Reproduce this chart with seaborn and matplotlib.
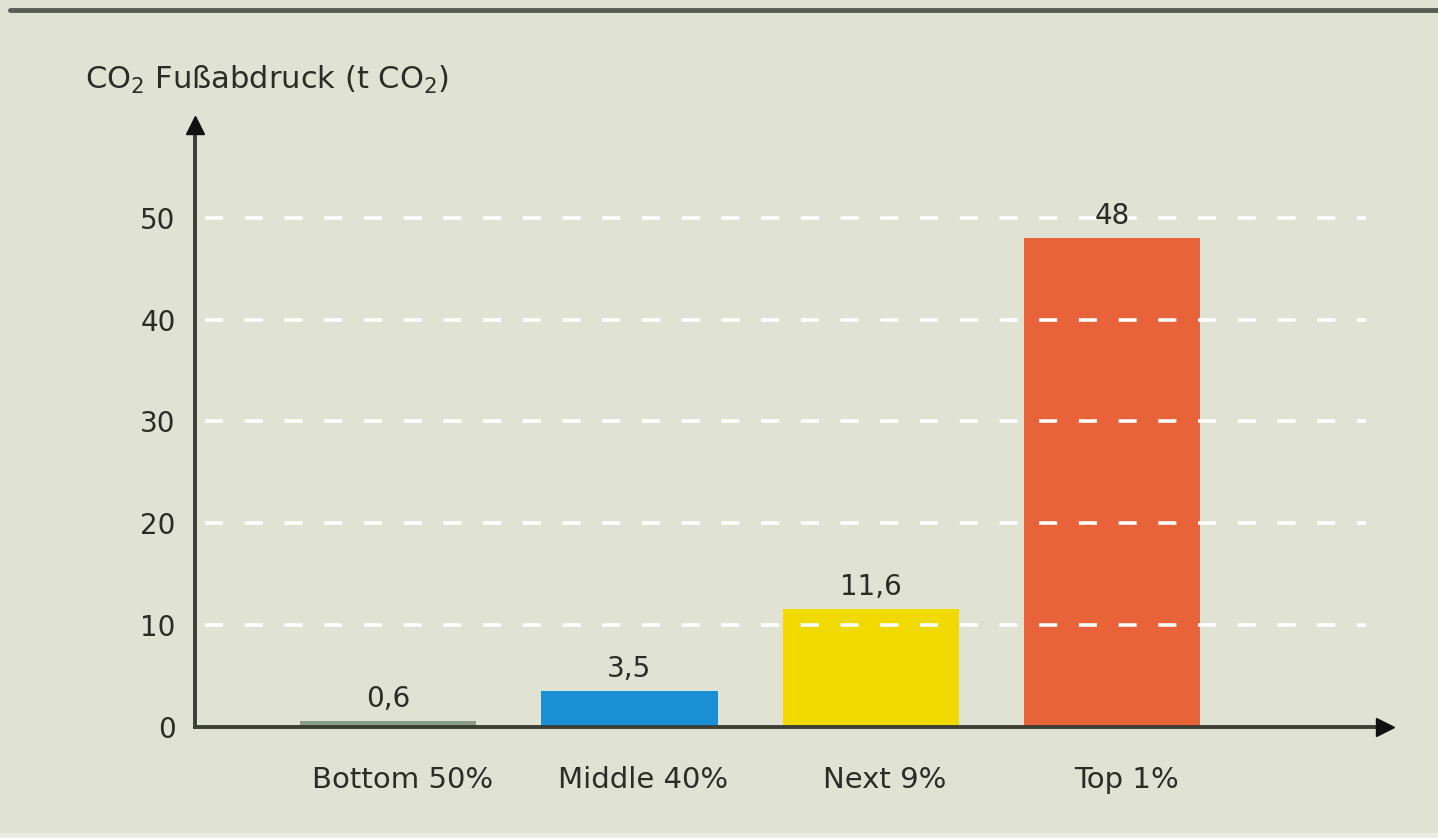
import numpy as np
import pandas as pd
import matplotlib
matplotlib.use('Agg')
import matplotlib.pyplot as plt
import matplotlib.transforms as mtransforms
from matplotlib.lines import Line2D
from matplotlib.patches import Rectangle
import seaborn as sns

categories = ['Bottom 50%', 'Middle 40%', 'Next 9%', 'Top 1%']
values = [0.6, 3.5, 11.6, 48]
value_labels = ['0,6', '3,5', '11,6', '48']
bar_colors = ['#8a9b87', '#1b8fd4', '#f0da00', '#e8633a']
y_ticks = [0, 10, 20, 30, 40, 50]

bg = '#e0e2d4'
ink = '#2b2c26'
axis_col = '#3c3f36'

sns.set_theme(style='white')
plt.rcParams['font.family'] = ['DejaVu Sans']
plt.rcParams['mathtext.fontset'] = 'dejavusans'

df = pd.DataFrame({'Gruppe': categories, 'CO2': values})

fig = plt.figure(figsize=(14.38, 8.38), dpi=100, facecolor=bg)
ax = fig.add_axes([195 / 1438, 111 / 838, 1190 / 1438, 602 / 838])
ax.set_facecolor(bg)

sns.barplot(data=df, x='Gruppe', y='CO2', hue='Gruppe', palette=bar_colors,
            legend=False, width=0.73, saturation=1, linewidth=0, ax=ax, zorder=2)

ax.set_xlim(-0.80, 4.13)
ax.set_ylim(0, 59.1)

# dashed white grid drawn above the bars
for yv in y_ticks[1:]:
    ax.plot([-0.76, 4.05], [yv, yv], color='white', lw=2.6,
            dashes=(5, 6), zorder=3, solid_capstyle='butt')

# value labels above each bar
for cont, lbl in zip(ax.containers, value_labels):
    bars = [b for b in cont if b is not None]
    for b in bars:
        if b.get_height() > 0:
            ax.annotate(lbl, (b.get_x() + b.get_width() / 2, b.get_height()),
                        xytext=(0, 6), textcoords='offset points',
                        ha='center', va='bottom', fontsize=20, color=ink)

sns.despine(ax=ax)
for s in ['left', 'bottom']:
    ax.spines[s].set_color(axis_col)
    ax.spines[s].set_linewidth(2.8)
    ax.spines[s].set_zorder(4)

# arrow heads at the axis ends
ax.plot(1, 0, '>', color='#111111', ms=13, transform=ax.transAxes, clip_on=False, zorder=5)
ax.plot(0, 1, '^', color='#111111', ms=13, transform=ax.transAxes, clip_on=False, zorder=5)

ax.set_yticks(y_ticks)
ax.set_yticklabels([str(t) for t in y_ticks])
ax.tick_params(axis='y', length=0, pad=14, labelsize=20, labelcolor=ink)
ax.tick_params(axis='x', length=0, pad=28, labelsize=21, labelcolor=ink)
ax.set_xlabel('')
ax.set_ylabel('')

# category names sit a little right of the bar centres in the original
shift = mtransforms.ScaledTranslation(14 / 100, 0, fig.dpi_scale_trans)
for lab in ax.get_xticklabels():
    lab.set_transform(lab.get_transform() + shift)

fig.text(85 / 1438, 1 - 80 / 838, r'CO$_2$ Fußabdruck (t CO$_2$)', fontsize=22,
         color=ink, va='center', ha='left')

# dark rule along the top edge and a light strip at the bottom
fig.add_artist(Line2D([10 / 1438, 1], [1 - 10 / 838, 1 - 10 / 838],
                      color='#5a5d53', lw=3.5, transform=fig.transFigure))
fig.add_artist(Rectangle((0, 0), 1, 5 / 838, color='#ebece4',
                         transform=fig.transFigure, lw=0))

fig.savefig('out.png', dpi=100, facecolor=bg)
